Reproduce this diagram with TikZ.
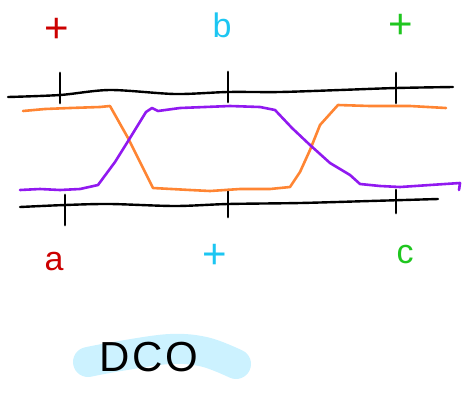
\documentclass[tikz,border=0pt]{standalone}
\usepackage{fontspec}
\setmainfont{Liberation Sans}
\definecolor{skred}{HTML}{CC0000}
\definecolor{skblue}{HTML}{1CC6F2}
\definecolor{skgreen}{HTML}{1FC61F}
\definecolor{skorange}{HTML}{FF8533}
\definecolor{skpurple}{HTML}{9119F0}
\definecolor{skhl}{HTML}{CCF2FF}
\begin{document}
\begin{tikzpicture}[x=1pt,y=-1pt,line cap=round,line join=round,
  axis/.style={black,line width=2.4pt},
  tick/.style={black,line width=2.8pt},
  wave/.style={line width=2.6pt},
  lbl/.style={font=\fontsize{34}{34}\selectfont,inner sep=0pt},
  plus/.style={font=\fontsize{42}{42}\selectfont,inner sep=0pt}]
\useasboundingbox (0,0) rectangle (470,394);
% highlight
\draw[skhl,line width=30pt] plot[smooth,tension=0.6] coordinates {(88,362) (120,356) (170,349) (205,352) (236,364)};
\node[font=\fontsize{42}{42}\selectfont,inner sep=0pt] (dco) at (149,357) {D\kern3pt C\kern3pt O};
% top axis
\draw[axis] plot[smooth] coordinates {(8,97) (60,95) (110,90) (175,94) (228,92) (280,92) (340,90) (396,88) (453,87)};
\draw[tick] (60,73) -- (60,103);
\draw[tick] (228,72) -- (228,102);
\draw[tick] (396,73) -- (396,103);
% bottom axis
\draw[axis] plot[smooth] coordinates {(20,207) (65,205) (110,204) (175,206) (228,204) (300,203) (370,201) (438,199)};
\draw[tick] (65,195) -- (65,225);
\draw[tick] (228,190) -- (228,217);
\draw[tick] (396,190) -- (396,213);
% orange
\draw[skorange,wave] (23,111) -- (45,109) -- (70,108) -- (100,107) -- (110,106)
  -- (128,138) -- (153,188) -- (190,190) -- (210,191) -- (240,189) -- (270,189) -- (290,187)
  -- (300,172) -- (310,150) -- (320,125) -- (338,105) -- (370,106) -- (410,106) -- (446,108);
% purple
\draw[skpurple,wave] (20,190) -- (40,189) -- (60,190) -- (80,189) -- (98,185)
  -- (115,162) -- (130,138) -- (146,112) -- (152,108) -- (158,111) -- (180,108) -- (230,106) -- (260,107) -- (275,110)
  -- (292,128) -- (310,145) -- (330,163) -- (350,175) -- (360,184) -- (380,186) -- (400,187) -- (430,185) -- (460,183) -- (459,190);
% labels
\node[plus,skred] (tl) at (57,30) {+};
\node[lbl,skblue] (tm) at (222,25) {b};
\node[plus,skgreen] (tr) at (401,26) {+};
\node[lbl,skred] (bl) at (54,262) {a};
\node[plus,skblue] (bm) at (215,256) {+};
\node[lbl,skgreen] (br) at (405,255) {c};
\end{tikzpicture}
\end{document}
